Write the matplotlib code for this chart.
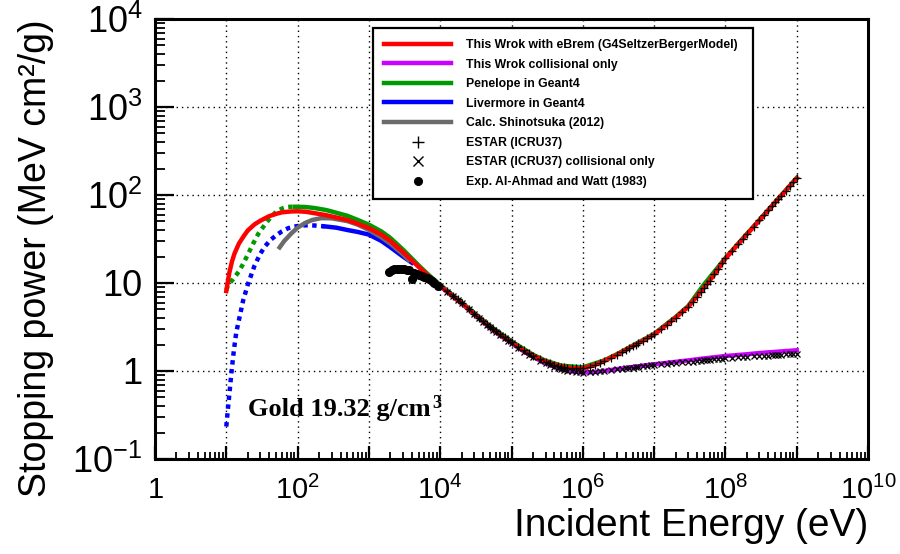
"""
Stopping power of electrons in gold, compared with Geant4 models and ESTAR.
"""
import matplotlib
matplotlib.use("Agg")
import matplotlib.pyplot as plt
from matplotlib import font_manager
from matplotlib.lines import Line2D
from matplotlib.ticker import FixedLocator, FixedFormatter, LogLocator, NullFormatter

# ---- data (energy in eV, stopping power in MeV cm2/g) ----
# This work with eBrem (G4SeltzerBergerModel)
RED_E = [10, 11, 12, 13, 15, 17.5, 20, 25, 30, 40, 50, 60, 80, 100, 130, 175,
         250, 350, 500, 700, 1e3, 1.5e3, 2e3, 3e3, 4e3, 5e3, 7e3, 1e4, 1.5e4,
         2e4, 3e4, 5e4, 7e4, 1e5, 1.5e5, 2e5, 3e5, 5e5, 7e5, 1e6, 1.5e6, 2e6,
         3e6, 5e6, 7e6, 1e7, 1.5e7, 2e7, 3e7, 5e7, 7e7, 1e8, 2e8, 3e8, 5e8,
         7e8, 1e9]
RED_S = [8.1, 13, 17.5, 21.5, 28, 34, 39.5, 46.5, 51, 57.5, 61, 63.5, 65, 65.3,
         64.5, 62, 59, 55.5, 52, 47, 42, 35.5, 30, 22.5, 18, 15.2, 11.8, 9.3,
         7.05, 5.9, 4.45, 3.15, 2.56, 2.12, 1.7, 1.5, 1.28, 1.12, 1.075, 1.07,
         1.18, 1.3, 1.53, 1.91, 2.22, 2.6, 3.36, 4.04, 5.35, 8.8, 12.5, 19.0,
         35.8, 51.7, 82.5, 112, 155]

# This work, collisional only
MAG_E = [1e4, 2e4, 3e4, 5e4, 7e4, 1e5, 1.5e5, 2e5, 3e5, 5e5, 7e5, 1e6, 1.5e6,
         2e6, 3e6, 5e6, 7e6, 1e7, 2e7, 3e7, 5e7, 1e8, 2e8, 3e8, 5e8, 1e9]
MAG_S = [9.2, 5.85, 4.4, 3.1, 2.52, 2.08, 1.66, 1.45, 1.22, 1.05, 0.99, 0.96,
         0.975, 1.0, 1.05, 1.11, 1.15, 1.19, 1.27, 1.32, 1.39, 1.48, 1.55,
         1.6, 1.65, 1.72]

# Penelope in Geant4 (dotted below ~90 eV)
PEN_LOW_E = [10, 10.6, 12.4, 15, 17.3, 20, 23.9, 28, 34.6, 42, 50.5, 60,
             69.6, 80, 92]
PEN_LOW_S = [8.3, 9.5, 11, 13.5, 16.6, 21, 28.2, 36, 45.8, 56, 65, 70, 72.8,
             73.5, 73.5]
PEN_E = [92, 100, 130, 175, 250, 300, 500, 700, 1e3, 1.5e3, 2e3, 3e3, 4e3,
         5e3, 7e3, 1e4, 2e4, 3e4, 5e4, 1e5, 2e5, 3e5, 5e5, 1e6, 2e6, 3e6, 5e6,
         1e7, 2e7, 3e7, 5e7, 1e8, 3e8, 1e9]
PEN_S = [73.5, 73.5, 73, 71, 67.5, 65, 58, 52, 46, 38.5, 32.5, 24, 19, 15.8,
         12.2, 9.5, 6.0, 4.55, 3.22, 2.17, 1.53, 1.31, 1.15, 1.1, 1.32, 1.55,
         1.94, 2.64, 4.1, 5.45, 9.6, 19.2, 52, 156]

# Livermore in Geant4 (dotted below ~240 eV)
LIV_LOW_E = [10, 10.5, 11, 11.8, 12.8, 13.8, 15.5, 17.2, 20.2, 25, 30, 34.6,
             42, 50.5, 60, 73.4, 90, 112, 140, 174, 240]
LIV_LOW_S = [0.234, 0.36, 0.53, 0.96, 1.75, 2.75, 4.25, 6.3, 9.8, 15.9, 21.5,
             25.9, 31, 35, 38.5, 41.9, 43.8, 45, 45.3, 45, 44]
LIV_E = [240, 350, 500, 700, 1e3, 1.5e3, 2e3, 3e3, 4e3]
LIV_S = [44, 42.5, 40, 38, 35.5, 30, 25.5, 20, 17]

# Calc. Shinotsuka (2012)
SHI_E = [56, 65, 81.7, 100, 126, 160, 214, 300, 500, 700, 1e3, 1.5e3, 2e3,
         3e3, 3.6e3]
SHI_S = [25.4, 30, 36.6, 42.5, 47.9, 52, 54.6, 54.3, 50.5, 46, 40, 33, 28,
         21.2, 18.3]

# ESTAR (ICRU37) energy grid
EST_E = [1e4, 1.25e4, 1.5e4, 1.75e4, 2e4, 2.5e4, 3e4, 3.5e4, 4e4, 4.5e4, 5e4, 5.5e4, 6e4, 7e4, 8e4, 9e4,
         1e5, 1.25e5, 1.5e5, 1.75e5, 2e5, 2.5e5, 3e5, 3.5e5, 4e5, 4.5e5, 5e5, 5.5e5, 6e5, 7e5, 8e5, 9e5,
         1e6, 1.25e6, 1.5e6, 1.75e6, 2e6, 2.5e6, 3e6, 3.5e6, 4e6, 4.5e6, 5e6, 5.5e6, 6e6, 7e6, 8e6, 9e6,
         1e7, 1.25e7, 1.5e7, 1.75e7, 2e7, 2.5e7, 3e7, 3.5e7, 4e7, 4.5e7, 5e7, 5.5e7, 6e7, 7e7, 8e7, 9e7,
         1e8, 1.25e8, 1.5e8, 1.75e8, 2e8, 2.5e8, 3e8, 3.5e8, 4e8, 4.5e8, 5e8, 5.5e8, 6e8, 7e8, 8e8, 9e8,
         1e9]
# total
EST_TOT = [9.3, 8.05, 7.15, 6.5, 5.95, 5.1, 4.5, 4.05, 3.7, 3.43, 3.2, 3.02, 2.86, 2.6, 2.41, 2.25,
           2.12, 1.88, 1.71, 1.59, 1.5, 1.37, 1.28, 1.22, 1.18, 1.15, 1.12, 1.105, 1.09, 1.078, 1.072, 1.07,
           1.07, 1.12, 1.18, 1.24, 1.30, 1.41, 1.53, 1.64, 1.73, 1.82, 1.91, 1.99, 2.07, 2.22, 2.36, 2.48,
           2.6, 3.0, 3.36, 3.71, 4.04, 4.66, 5.35, 6.15, 7.0, 7.9, 8.8, 9.7, 10.6, 12.5, 14.5, 16.7,
           19.0, 23.3, 27.5, 31.7, 35.8, 43.8, 51.7, 59.6, 67.2, 74.9, 82.5, 90, 97.4, 112, 126.5, 140.8,
           155]
# collisional only
EST_COL = [9.2, 7.95, 7.05, 6.4, 5.85, 5.0, 4.42, 3.98, 3.63, 3.36, 3.13, 2.95, 2.8, 2.54, 2.35, 2.19,
           2.06, 1.82, 1.65, 1.53, 1.44, 1.31, 1.22, 1.16, 1.11, 1.075, 1.05, 1.03, 1.01, 0.99, 0.975, 0.965,
           0.96, 0.965, 0.975, 0.99, 1.0, 1.025, 1.045, 1.06, 1.075, 1.085, 1.095, 1.105, 1.115, 1.13, 1.145, 1.155,
           1.17, 1.19, 1.205, 1.22, 1.23, 1.25, 1.27, 1.28, 1.295, 1.31, 1.32, 1.33, 1.34, 1.355, 1.37, 1.385,
           1.40, 1.415, 1.43, 1.44, 1.45, 1.465, 1.48, 1.49, 1.50, 1.51, 1.52, 1.525, 1.53, 1.545, 1.555, 1.565,
           1.57]

# Exp. Al-Ahmad and Watt (1983)
EXP_E = [1945, 2100, 2280, 2450, 2680, 2900, 3150, 3400, 3700, 4060, 4350,
         4700, 5100, 5500, 6000, 6500, 7050, 7600, 8290, 9200]
EXP_S = [13.4, 13.9, 14.3, 14.5, 14.6, 14.6, 14.3, 14.2, 14.1, 11.2, 13.1,
         12.8, 12.3, 12.0, 11.6, 11.3, 11.0, 10.6, 10.1, 9.2]

X_TICKS = [1, 1e1, 1e2, 1e3, 1e4, 1e5, 1e6, 1e7, 1e8, 1e9, 1e10]
X_LABELS = ["1", "", "10^{2}", "", "10^{4}", "", "10^{6}", "", "10^{8}", "",
            "10^{10}"]
Y_TICKS = [0.1, 1, 10, 100, 1e3, 1e4]
Y_LABELS = ["$10^{-1}$", "1", "10", "$10^{2}$", "$10^{3}$", "$10^{4}$"]

LABELS = ["This Wrok with eBrem (G4SeltzerBergerModel)",
          "This Wrok collisional only",
          "Penelope in Geant4",
          "Livermore in Geant4",
          "Calc. Shinotsuka (2012)",
          "ESTAR (ICRU37)",
          "ESTAR (ICRU37) collisional only",
          "Exp. Al-Ahmad and Watt (1983)"]
RED, MAGENTA, GREEN, BLUE, GRAY = "#ff0000", "#cc00ff", "#009900", "#0000ff", "#6b6b6b"

names = set(font_manager.get_font_names())
NARROW = "Liberation Sans Narrow" if "Liberation Sans Narrow" in names else "Liberation Sans"
XTICK_SIZE = 23 if NARROW == "Liberation Sans Narrow" else 21

plt.rcParams["font.family"] = "Liberation Sans"
plt.rcParams["mathtext.fontset"] = "custom"
plt.rcParams["mathtext.rm"] = "Liberation Sans"
plt.rcParams["mathtext.sf"] = NARROW
plt.rcParams["axes.linewidth"] = 2.2

fig = plt.figure(figsize=(9, 5.54), dpi=100)
ax = fig.add_axes([155 / 900, 1 - 459 / 554, 713 / 900, 440 / 554])
ax.set_xscale("log")
ax.set_yscale("log")

LW = 3.2
DOT = (0, (1, 1))
ax.plot(PEN_LOW_E, PEN_LOW_S, color=GREEN, lw=LW, ls=DOT, zorder=3)
ax.plot(PEN_E, PEN_S, color=GREEN, lw=LW, zorder=3)
ax.plot(LIV_LOW_E, LIV_LOW_S, color=BLUE, lw=LW, ls=DOT, zorder=3)
ax.plot(LIV_E, LIV_S, color=BLUE, lw=LW, zorder=3)
ax.plot(SHI_E, SHI_S, color=GRAY, lw=LW, zorder=4)
ax.plot(MAG_E, MAG_S, color=MAGENTA, lw=LW, zorder=4)
ax.plot(RED_E, RED_S, color=RED, lw=LW, zorder=5)
ax.plot(EST_E, EST_TOT, ls="none", marker="+", ms=6, mew=0.9, color="black", zorder=6)
ax.plot(EST_E, EST_COL, ls="none", marker="x", ms=5, mew=0.9, color="black", zorder=6)
ax.plot(EXP_E, EXP_S, ls="none", marker="o", ms=5.5, color="black", zorder=7)

ax.set_xlim(1, 1e10)
ax.set_ylim(0.1, 1e4)

ax.xaxis.set_major_locator(FixedLocator(X_TICKS))
ax.xaxis.set_major_formatter(FixedFormatter(
    [r"$\mathsf{%s}$" % s if s else "" for s in X_LABELS]))
ax.xaxis.set_minor_locator(LogLocator(base=10, subs=range(2, 10), numticks=200))
ax.xaxis.set_minor_formatter(NullFormatter())
ax.yaxis.set_major_locator(FixedLocator(Y_TICKS))
ax.yaxis.set_major_formatter(FixedFormatter(Y_LABELS))
ax.yaxis.set_minor_locator(LogLocator(base=10, subs=range(2, 10), numticks=200))
ax.yaxis.set_minor_formatter(NullFormatter())

ax.tick_params(which="both", direction="in", top=False, right=False, color="black")
ax.tick_params(axis="x", which="major", length=9.5, width=1.6, pad=12, labelsize=XTICK_SIZE)
ax.tick_params(axis="x", which="minor", length=5, width=1.3)
ax.tick_params(axis="y", which="major", length=14, width=1.6, pad=9, labelsize=26)
ax.tick_params(axis="y", which="minor", length=7, width=1.3)

ax.grid(True, which="major", color="black", lw=1.0, ls=(0, (1, 2.8)))
ax.set_axisbelow(True)

ax.set_xlabel("Incident Energy (eV)", fontsize=28, loc="right")
ax.xaxis.set_label_coords(1.0, (459 - 526) / 440)
ax.xaxis.label.set_va("center")
ax.set_ylabel("Stopping power (MeV cm²/g)", fontsize=27, loc="top")
ax.yaxis.set_label_coords((36 - 155) / 713, 1.0)
ax.yaxis.label.set_va("center")

gold = ax.text(20, 0.31, "Gold 19.32 g/cm", family="Liberation Serif",
               weight="bold", fontsize=19, va="baseline", ha="left")
ax.annotate("3", xy=(1.01, 1.12), xycoords=gold, va="top", ha="left",
            family="Liberation Serif", weight="bold", fontsize=13)

handles = [Line2D([], [], color=RED, lw=LW),
           Line2D([], [], color=MAGENTA, lw=LW),
           Line2D([], [], color=GREEN, lw=LW),
           Line2D([], [], color=BLUE, lw=LW),
           Line2D([], [], color=GRAY, lw=LW),
           Line2D([], [], ls="none", marker="+", ms=8, mew=1.0, color="black"),
           Line2D([], [], ls="none", marker="x", ms=7, mew=1.0, color="black"),
           Line2D([], [], ls="none", marker="o", ms=5.5, color="black")]
leg = ax.legend(handles, LABELS, loc="upper left",
                bbox_to_anchor=((373 - 155) / 713, (459 - 200) / 440,
                                (753 - 373) / 713, (200 - 28) / 440),
                mode="expand", borderaxespad=0, fancybox=False,
                edgecolor="black", framealpha=1,
                prop={"family": "Liberation Sans", "weight": "bold", "size": 8.8},
                handlelength=5.5, handletextpad=1.2, borderpad=0.9,
                labelspacing=0.62)
leg.get_frame().set_linewidth(1.6)
leg.set_zorder(10)

fig.savefig("out.png", dpi=100)
